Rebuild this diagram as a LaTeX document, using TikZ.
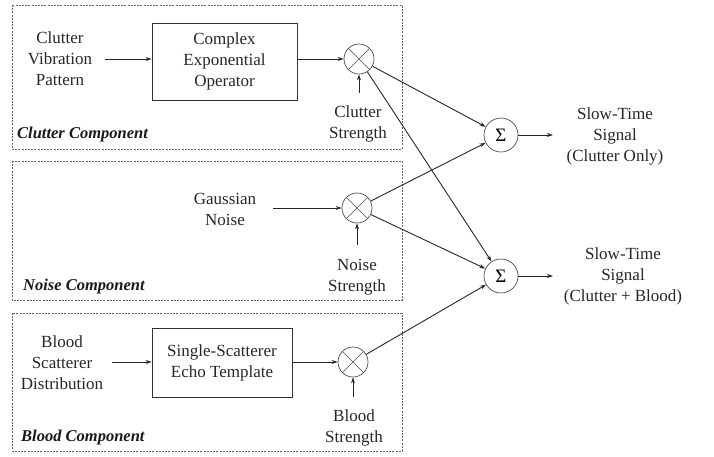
\documentclass[tikz,border=0pt]{standalone}
\usepackage{fontspec}
\setmainfont{Liberation Serif}
\usetikzlibrary{arrows.meta}
\begin{document}
\begin{tikzpicture}[x=1pt,y=-1pt,
  txt/.style={font=\fontsize{17}{21}\selectfont, align=center, inner sep=1pt, text=black!85},
  comp/.style={font=\fontsize{16.5}{20}\selectfont\bfseries\itshape, anchor=west, inner sep=0pt, text=black!90},
  blk/.style={draw=black!80, line width=0.9pt, font=\fontsize{17}{21}\selectfont, align=center, inner sep=0pt, text=black!85},
  mult/.style={draw=black!70, circle, line width=0.7pt, minimum size=30pt, inner sep=0pt},
  summ/.style={draw=black!70, circle, line width=0.7pt, minimum size=34pt, inner sep=0pt, font=\fontsize{19}{20}\selectfont},
  grp/.style={draw=black!60, line width=0.6pt, dash pattern=on 2pt off 1.2pt},
  arr/.style={-{Stealth[length=6pt,width=4pt]}, line width=0.9pt, draw=black!85},
]
\useasboundingbox (0,0) rectangle (714,456);

% group frames
\draw[grp] (12,5) rectangle (402,149);
\draw[grp] (12,161) rectangle (402,300);
\draw[grp] (12,313) rectangle (402,451);

\node[comp] (cc) at (17,135) {Clutter Component};
\node[comp] (nc) at (23,287) {Noise Component};
\node[comp] (bc) at (21,438) {Blood Component};

% clutter row
\node[txt] (cvp) at (60,59) {Clutter\\Vibration\\Pattern};
\node[blk, minimum width=145pt, minimum height=77pt] (ceo) at (224.5,61.5) {Complex\\Exponential\\Operator};
\node[mult] (cm) at (359,59) {};
\draw[black!70, line width=0.6pt] (cm.45) -- (cm.225) (cm.135) -- (cm.315);
\node[txt] (cs) at (358,124) {Clutter\\Strength};
\coordinate (csa) at (359,93);
\draw[arr] (105,59) coordinate (cva) -- (ceo.west |- cva);
\draw[arr] (ceo.east |- cva) -- (cm);
\draw[arr] (csa) -- (cm);

% noise row
\node[txt] (gn) at (225,209) {Gaussian\\Noise};
\node[mult] (nm) at (357,208) {};
\draw[black!70, line width=0.6pt] (nm.45) -- (nm.225) (nm.135) -- (nm.315);
\node[txt] (ns) at (357,277) {Noise\\Strength};
\coordinate (nsa) at (357,245);
\draw[arr] (273,208) coordinate (gna) -- (nm);
\draw[arr] (nsa) -- (nm);

% blood row
\node[txt] (bsd) at (62,363) {Blood\\Scatterer\\Distribution};
\node[blk, minimum width=140pt, minimum height=69pt] (set) at (222,362.5) {Single-Scatterer\\Echo Template};
\node[mult] (bm) at (353,362) {};
\draw[black!70, line width=0.6pt] (bm.45) -- (bm.225) (bm.135) -- (bm.315);
\node[txt] (bs) at (354,428) {Blood\\Strength};
\coordinate (bsa2) at (353,397);
\draw[arr] (112,362) coordinate (bsa) -- (set.west |- bsa);
\draw[arr] (set.east |- bsa) -- (bm);
\draw[arr] (bsa2) -- (bm);

% sums
\node[summ] (s1) at (501,135) {Σ};
\node[summ] (s2) at (501,276) {Σ};
\draw[arr] (cm) -- (s1);
\draw[arr] (cm) -- (s2);
\draw[arr] (nm) -- (s1);
\draw[arr] (nm) -- (s2);
\draw[arr] (bm) -- (s2);

% outputs
\node[txt] (o1) at (615,136) {Slow-Time\\Signal\\(Clutter Only)};
\node[txt] (o2) at (623,276) {Slow-Time\\Signal\\(Clutter + Blood)};
\draw[arr] (s1) -- (553,135) coordinate (o1a);
\draw[arr] (s2) -- (553,276) coordinate (o2a);
\end{tikzpicture}
\end{document}
